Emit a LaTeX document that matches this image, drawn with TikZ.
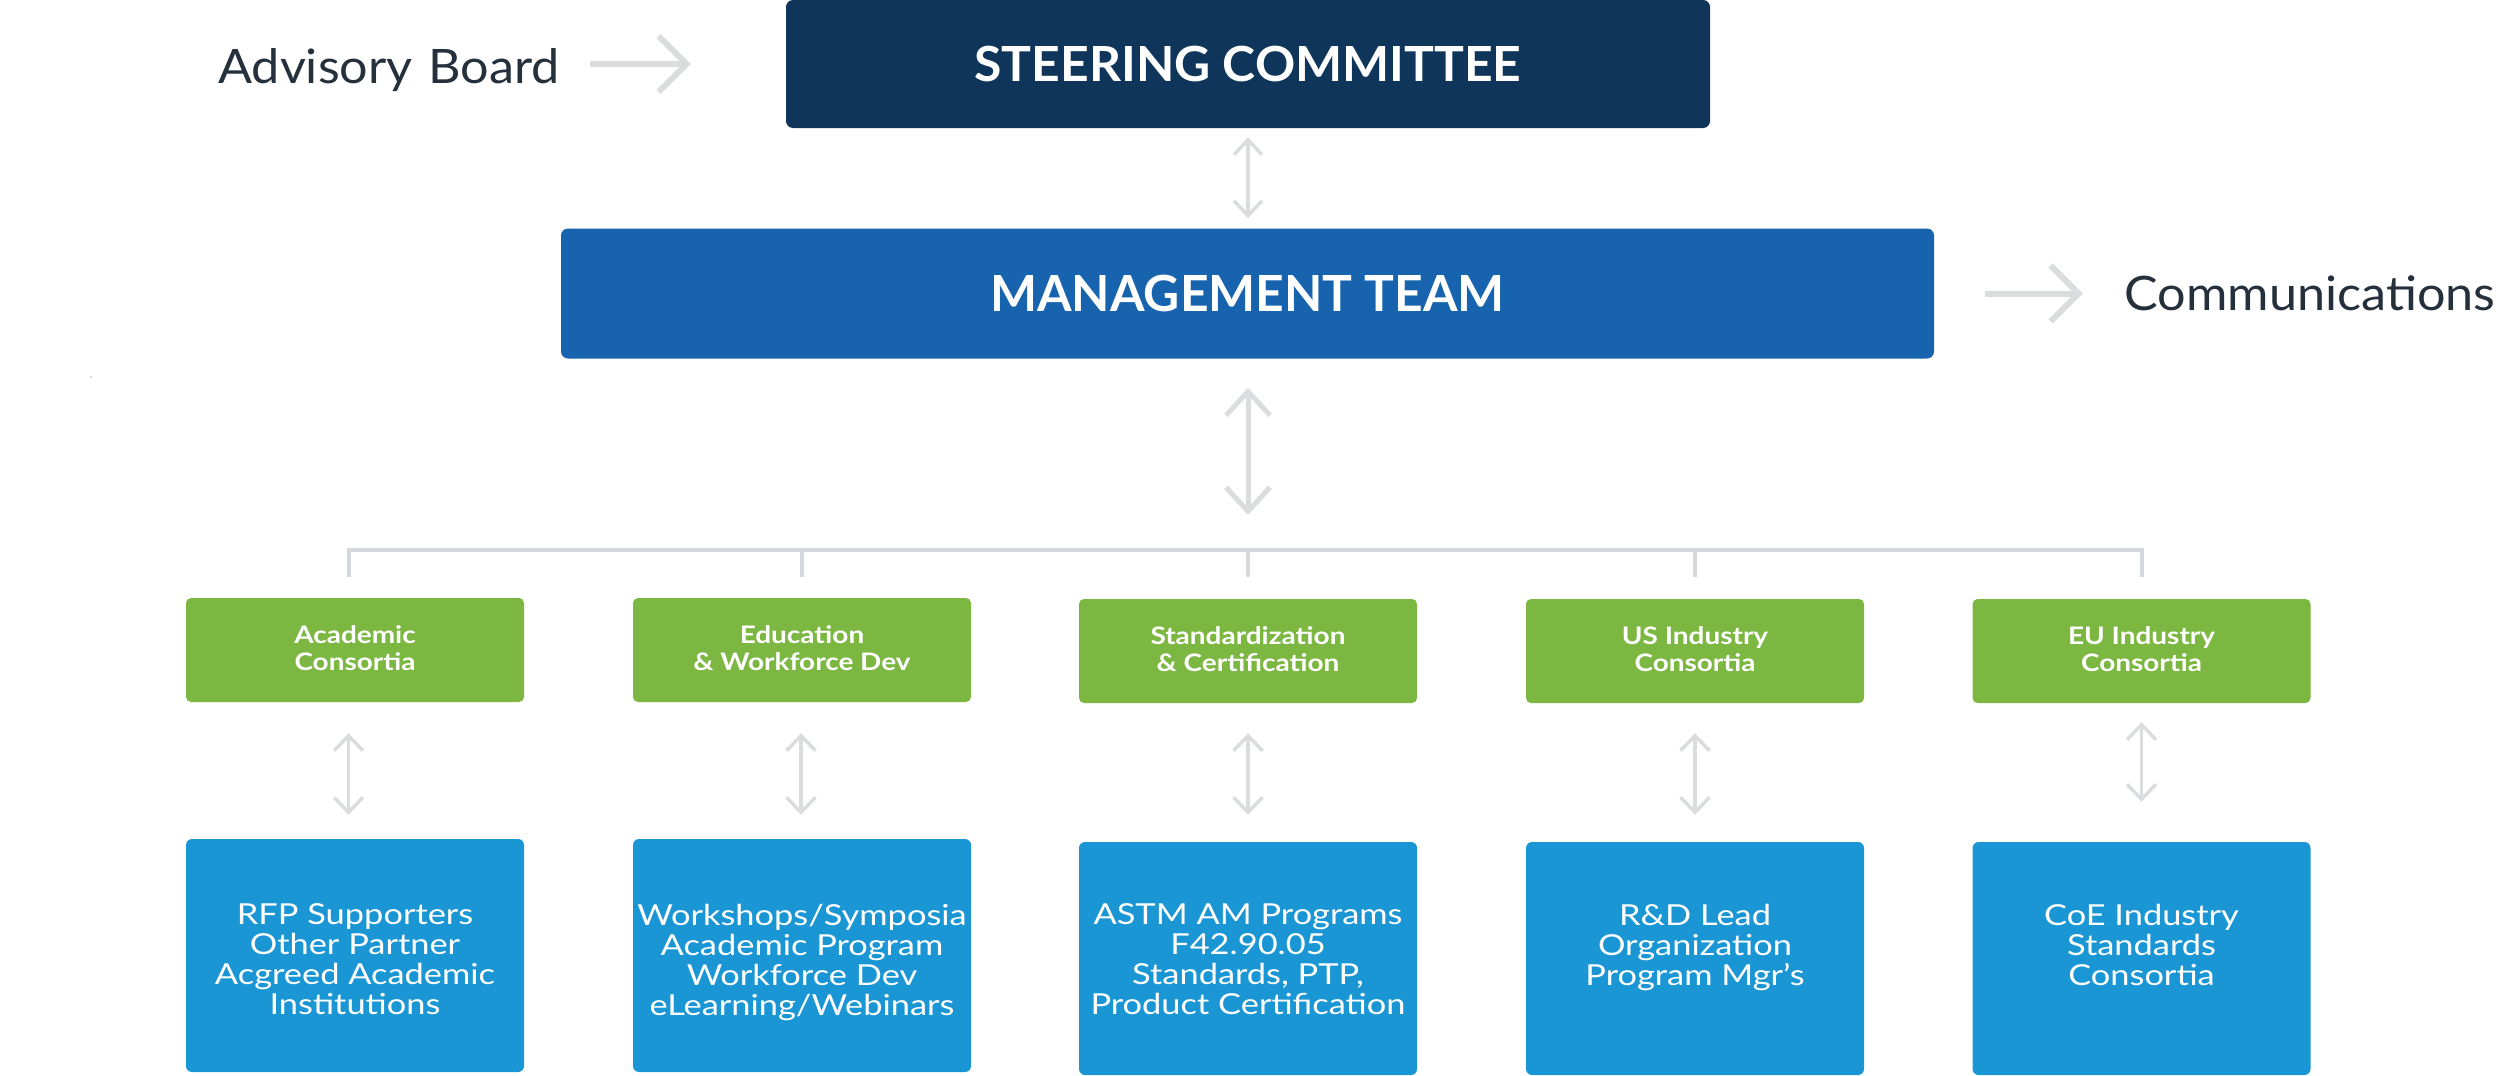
\documentclass[tikz,border=0pt]{standalone}
\usepackage{fontspec}
\setmainfont{Lato}
\newfontfamily\fblue[FakeStretch=1.19]{Lato}
\newfontfamily\fgreen[FakeStretch=1.16]{Lato}
\newfontfamily\fside[FakeStretch=1.06]{Lato}
\newfontfamily\fsteer[FakeStretch=1.03]{Lato}
\usetikzlibrary{arrows.meta,calc}
\definecolor{cnavy}{HTML}{0F355A}
\definecolor{cmgmt}{HTML}{1763AE}
\definecolor{cgreen}{HTML}{7CB742}
\definecolor{cblue}{HTML}{1B96D4}
\definecolor{cgray}{HTML}{DADCDE}
\definecolor{cbus}{HTML}{D5D9DE}
\definecolor{cdark}{HTML}{25303D}
\tikzset{
  topbox/.style={fill=#1, rounded corners=7pt, inner sep=0pt, text=white},
  greenbox/.style={fill=cgreen, rounded corners=5pt, minimum width=338pt, minimum height=104pt, inner sep=0pt},
  greentext/.style={text=white, align=center, inner sep=0pt, font=\fgreen\bfseries\fontsize{24.1}{27}\selectfont},
  bluebox/.style={fill=cblue, rounded corners=6pt, minimum width=338pt, minimum height=233pt, inner sep=0pt},
  bluetext/.style={text=white, align=center, inner sep=0pt, anchor=north, font=\fblue\fontsize{28.9}{30}\selectfont},
  sidetext/.style={text=cdark, inner sep=0pt, anchor=base, align=center, font=\fside\fontsize{47.5}{56}\selectfont},
  bigarrow/.style={draw=cgray, line width=6pt, -{Straight Barb[length=28pt,width=56pt]}},
  twoway/.style n args={3}{draw=cgray, line width=#1, {Straight Barb[length=#2,width=#3]}-{Straight Barb[length=#2,width=#3]}},
  busline/.style={draw=cbus, line width=4pt},
}
\begin{document}
\begin{tikzpicture}[x=1pt,y=-1pt]
\useasboundingbox (0,0) rectangle (2500,1076);

% top boxes
\node[topbox=cnavy, minimum width=924pt, minimum height=128pt, font=\fsteer\bfseries\fontsize{48.4}{58}\selectfont] (steer) at (1248,64) {STEERING COMMITTEE};
\node[topbox=cmgmt, minimum width=1373pt, minimum height=130pt, font=\bfseries\fontsize{49.8}{60}\selectfont] (mgmt) at (1247.5,293.5) {MANAGEMENT TEAM};

% side labels
\node[sidetext, text width=380pt] (adv) at (389,83) {Advisory Board};
\node[sidetext, text width=380pt] (comm) at (2310,310) {Communications};

\draw[bigarrow, shorten <=11pt, shorten >=95pt] (adv.east |- steer.west) -- (steer.west);
\draw[bigarrow, shorten <=51pt, shorten >=37pt] (mgmt.east) -- (mgmt.east -| comm.west);

% green boxes
\node[greenbox] (g1) at (355,650) {};
\node[greenbox] (g2) at (802,650) {};
\node[greenbox] (g3) at (1248,651) {};
\node[greenbox] (g4) at (1695,651) {};
\node[greenbox] (g5) at (2141.5,651) {};
\node[greentext] (g1t) at ([yshift=2pt]g1.center) {Academic\\Consortia};
\node[greentext] (g2t) at ([yshift=2pt]g2.center) {Education\\\& Workforce Dev};
\node[greentext] (g3t) at ([yshift=2pt]g3.center) {Standardization\\\& Certification};
\node[greentext] (g4t) at ([yshift=2pt]g4.center) {US Industry\\Consortia};
\node[greentext] (g5t) at ([yshift=2pt]g5.center) {EU Industry\\Consortia};

% blue boxes
\node[bluebox] (b1) at (355,955.5) {};
\node[bluebox] (b2) at (802,955.5) {};
\node[bluebox] (b3) at (1248,958.5) {};
\node[bluebox] (b4) at (1695,958.5) {};
\node[bluebox] (b5) at (2141.5,958.5) {};

\node[bluetext] (b1t) at ([yshift=-65pt]b1.north) {RFP Supporters\\Other Partner\\Acgreed Academic\\Institutions};
\node[bluetext] (b2t) at ([yshift=-65pt]b2.north) {Workshops/Symposia\\Academic Program\\Workforce Dev\\eLearning/Webinars};
\node[bluetext] (b3t) at ([yshift=-62pt]b3.north) {ASTM AM Programs\\F42.90.05\\Standards, PTP,\\Product Certification};
\node[bluetext] (b4t) at ([yshift=-62pt]b4.north) {R\&D Lead\\Organization\\Program Mgr’s};
\node[bluetext] (b5t) at ([yshift=-62pt]b5.north) {CoE Industry\\Standards\\Consortia};

% bus
\coordinate (bus) at (1248,550);
\coordinate (t1) at (348.5,550);
\coordinate (t5) at (2141.5,550);
\draw[busline, shorten <=21pt, shorten >=22pt] (t1 |- g1.north) -- (t1) -- (t5) -- (t5 |- g5.north);
\draw[busline, shorten >=21pt] (g2.north |- bus) -- (g2.north);
\draw[busline, shorten >=22pt] (g3.north |- bus) -- (g3.north);
\draw[busline, shorten >=22pt] (g4.north |- bus) -- (g4.north);

% vertical two-way arrows
\draw[twoway={3.5pt}{15pt}{28pt}, shorten <=9pt, shorten >=10pt] (steer.south) -- (mgmt.north -| steer.south);
\draw[twoway={5pt}{24pt}{44pt}, shorten <=29pt, shorten >=35pt] (mgmt.south -| bus) -- (bus);

\draw[twoway={3.5pt}{15pt}{29pt}, shorten <=31pt, shorten >=24pt] ([xshift=-6.5pt]g1.south) -- ([xshift=-6.5pt]b1.north);
\draw[twoway={3.5pt}{15pt}{29pt}, shorten <=31pt, shorten >=24pt] ([xshift=-1pt]g2.south) -- ([xshift=-1pt]b2.north);
\draw[twoway={3.5pt}{15pt}{29pt}, shorten <=30pt, shorten >=27pt] (g3.south) -- (b3.north);
\draw[twoway={3.5pt}{15pt}{29pt}, shorten <=30pt, shorten >=27pt] (g4.south) -- (b4.north);
\draw[twoway={3.5pt}{15pt}{29pt}, shorten <=19pt, shorten >=40pt] (g5.south) -- (b5.north);

% stray mark
\fill[cbus] (89.5,375.5) rectangle (92,378);
\end{tikzpicture}
\end{document}
